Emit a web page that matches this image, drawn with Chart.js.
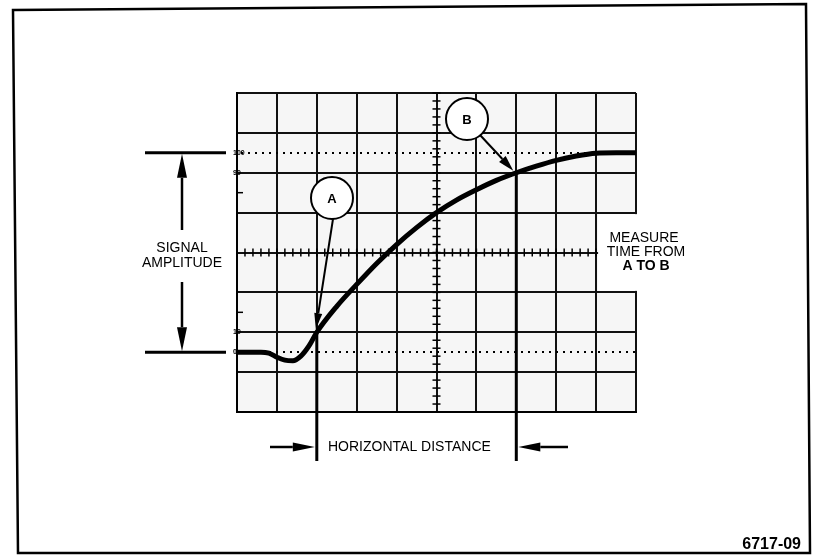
<!DOCTYPE html>
<html>
<head>
<meta charset="utf-8">
<script src="https://cdn.jsdelivr.net/npm/chart.js@4.4.1/dist/chart.umd.min.js"></script>
<style>
  html, body { margin: 0; padding: 0; background: #fff; }
  #wrap { width: 813px; height: 555px; position: relative; }
</style>
</head>
<body>
<div id="wrap"><canvas id="c" width="813" height="555"></canvas></div>
<script>
// ---- data (screen divisions on x, percent of signal amplitude on y) ----
const timeDiv = [0, 0.6, 0.8, 1.0, 1.2, 1.4, 1.6, 1.8, 2.0, 2.5, 3, 3.5, 4, 4.5, 5, 5.5, 6, 6.5, 7, 7.5, 8, 8.5, 9, 9.5, 10];
const amplitudePct = [0, 0, -0.5, -2.5, -4, -4.3, -2, 3, 10, 23, 34, 44.5, 54, 62.5, 70, 76.3, 81.5, 86.2, 90, 93.3, 96.2, 98.4, 99.8, 100, 100];
const xGrid = [0, 1, 2, 3, 4, 5, 6, 7, 8, 9, 10];
const yGrid = [-30, -10, 10, 30, 50, 70, 90, 110, 130];
const ampLabels = ['100', '90', '10', '0'];
const ampLabelValues = [100, 90, 10, 0];
const pointA = [2, 10];
const pointB = [7, 90];

const FONT = '"Liberation Sans", Arial, Helvetica, sans-serif';

function arrow(ctx, x1, y1, x2, y2, headLen, headW, lw) {
  const ang = Math.atan2(y2 - y1, x2 - x1);
  const bx = x2 - headLen * Math.cos(ang), by = y2 - headLen * Math.sin(ang);
  ctx.save();
  ctx.lineWidth = lw; ctx.strokeStyle = '#000'; ctx.fillStyle = '#000';
  ctx.beginPath(); ctx.moveTo(x1, y1); ctx.lineTo(bx, by); ctx.stroke();
  ctx.beginPath();
  ctx.moveTo(x2, y2);
  ctx.lineTo(bx + headW / 2 * Math.sin(ang), by - headW / 2 * Math.cos(ang));
  ctx.lineTo(bx - headW / 2 * Math.sin(ang), by + headW / 2 * Math.cos(ang));
  ctx.closePath(); ctx.fill();
  ctx.restore();
}

const scopePlugin = {
  id: 'scope',
  beforeDraw(chart) {
    const ctx = chart.ctx, a = chart.chartArea;
    ctx.save();
    ctx.fillStyle = '#f6f6f6';
    ctx.fillRect(a.left, a.top, a.right - a.left, a.bottom - a.top);
    ctx.restore();
  },
  beforeDatasetsDraw(chart) {
    const ctx = chart.ctx, xs = chart.scales.x, ys = chart.scales.y, a = chart.chartArea;
    ctx.save();
    // dotted 0% and 100% reference lines
    ctx.strokeStyle = '#000'; ctx.lineWidth = 2; ctx.setLineDash([2, 5]);
    [0, 100].forEach(v => {
      const y = Math.round(ys.getPixelForValue(v));
      ctx.beginPath(); ctx.moveTo(a.left + 4, y); ctx.lineTo(a.right, y); ctx.stroke();
    });
    ctx.setLineDash([]);
    // minor ticks on centre lines
    ctx.lineWidth = 1.5;
    const yc = ys.getPixelForValue(50), xc = xs.getPixelForValue(5);
    for (let i = 0; i <= 50; i++) {
      const x = xs.getPixelForValue(i * 0.2);
      ctx.beginPath(); ctx.moveTo(x, yc - 4); ctx.lineTo(x, yc + 4); ctx.stroke();
    }
    for (let i = 0; i <= 40; i++) {
      const y = ys.getPixelForValue(-30 + i * 4);
      ctx.beginPath(); ctx.moveTo(xc - 4, y); ctx.lineTo(xc + 4, y); ctx.stroke();
    }
    // left border small ticks
    [20, 80].forEach(v => {
      const y = ys.getPixelForValue(v);
      ctx.beginPath(); ctx.moveTo(a.left, y); ctx.lineTo(a.left + 6, y); ctx.stroke();
    });
    // white gap for the right-hand note
    ctx.fillStyle = '#fff';
    ctx.fillRect(xs.getPixelForValue(9) + 2, ys.getPixelForValue(70) + 1.5, 110, ys.getPixelForValue(30) - ys.getPixelForValue(70) - 3);
    ctx.restore();
  },
  afterDraw(chart) {
    const ctx = chart.ctx, xs = chart.scales.x, ys = chart.scales.y, a = chart.chartArea;
    ctx.save();
    ctx.strokeStyle = '#000'; ctx.fillStyle = '#000';
    const xA = xs.getPixelForValue(pointA[0]), yA = ys.getPixelForValue(pointA[1]);
    const xB = xs.getPixelForValue(pointB[0]), yB = ys.getPixelForValue(pointB[1]);
    const yDist = 447, yBarEnd = 461;
    // measurement verticals
    ctx.lineWidth = 3;
    ctx.beginPath(); ctx.moveTo(xA, yA); ctx.lineTo(xA, yBarEnd); ctx.stroke();
    ctx.beginPath(); ctx.moveTo(xB, yB); ctx.lineTo(xB, yBarEnd); ctx.stroke();
    // circles A and B
    const circ = (cx, cy, t) => {
      ctx.lineWidth = 2;
      ctx.beginPath(); ctx.arc(cx, cy, 21, 0, Math.PI * 2);
      ctx.fillStyle = '#fff'; ctx.fill(); ctx.stroke();
      ctx.fillStyle = '#000';
      ctx.font = 'bold 13px ' + FONT; ctx.textAlign = 'center'; ctx.textBaseline = 'middle';
      ctx.fillText(t, cx, cy + 1);
    };
    circ(332, 198, 'A');
    circ(467, 119, 'B');
    arrow(ctx, 333, 219, xA - 1, yA - 3, 16, 8, 2);
    arrow(ctx, 480, 135, xB - 3, yB - 2, 16, 9, 2);
    // signal amplitude bracket
    const y100 = ys.getPixelForValue(100), y0 = ys.getPixelForValue(0);
    ctx.lineWidth = 3;
    ctx.beginPath(); ctx.moveTo(145, y100); ctx.lineTo(226, y100); ctx.stroke();
    ctx.beginPath(); ctx.moveTo(145, y0); ctx.lineTo(226, y0); ctx.stroke();
    arrow(ctx, 182, 230, 182, y100 + 1, 24, 10, 2.5);
    arrow(ctx, 182, 282, 182, y0 - 1, 24, 10, 2.5);
    ctx.font = '14px ' + FONT; ctx.textAlign = 'center'; ctx.textBaseline = 'middle';
    ctx.fillText('SIGNAL', 182, 248);
    ctx.fillText('AMPLITUDE', 182, 263);
    // measure note
    ctx.fillText('MEASURE', 644, 238);
    ctx.fillText('TIME FROM', 646, 252);
    ctx.font = 'bold 14px ' + FONT;
    ctx.fillText('A TO B', 646, 266);
    // horizontal distance
    ctx.font = '14px ' + FONT;
    ctx.textAlign = 'left';
    ctx.fillText('HORIZONTAL DISTANCE', 328, yDist);
    arrow(ctx, 270, yDist, xA - 2, yDist, 22, 9, 2.5);
    arrow(ctx, 568, yDist, xB + 2, yDist, 22, 9, 2.5);
    // figure number
    ctx.font = 'bold 16px ' + FONT; ctx.textAlign = 'right'; ctx.textBaseline = 'alphabetic';
    ctx.fillText('6717-09', 801, 549);
    // tiny amplitude marks
    ctx.font = 'bold 7px ' + FONT; ctx.textAlign = 'left'; ctx.textBaseline = 'middle';
    ampLabels.forEach((t, i) => ctx.fillText(t, a.left - 4, ys.getPixelForValue(ampLabelValues[i])));
    // outer frame (slightly skewed scan)
    ctx.lineWidth = 2.5;
    ctx.beginPath();
    ctx.moveTo(13, 10); ctx.lineTo(806, 4); ctx.lineTo(810, 553); ctx.lineTo(18, 553); ctx.closePath();
    ctx.stroke();
    ctx.restore();
  }
};

new Chart(document.getElementById('c'), {
  type: 'line',
  data: {
    datasets: [{
      data: timeDiv.map((t, i) => ({ x: t, y: amplitudePct[i] })),
      borderColor: '#000',
      borderWidth: 5,
      pointRadius: 0,
      cubicInterpolationMode: 'monotone',
      fill: false
    }]
  },
  options: {
    responsive: false,
    animation: false,
    events: [],
    layout: { padding: { left: 237, top: 93, right: 177, bottom: 143 } },
    plugins: { legend: { display: false }, tooltip: { enabled: false } },
    scales: {
      x: {
        type: 'linear', min: 0, max: 10,
        afterBuildTicks: ax => { ax.ticks = xGrid.map(v => ({ value: v })); },
        ticks: { display: false },
        grid: { color: '#111', lineWidth: 2, drawTicks: false },
        border: { display: true, color: '#000', width: 2 }
      },
      y: {
        type: 'linear', min: -30, max: 130,
        afterBuildTicks: ax => { ax.ticks = yGrid.map(v => ({ value: v })); },
        ticks: { display: false },
        grid: { color: '#111', lineWidth: 2, drawTicks: false },
        border: { display: true, color: '#000', width: 2 }
      }
    }
  },
  plugins: [scopePlugin]
});
</script>
</body>
</html>
